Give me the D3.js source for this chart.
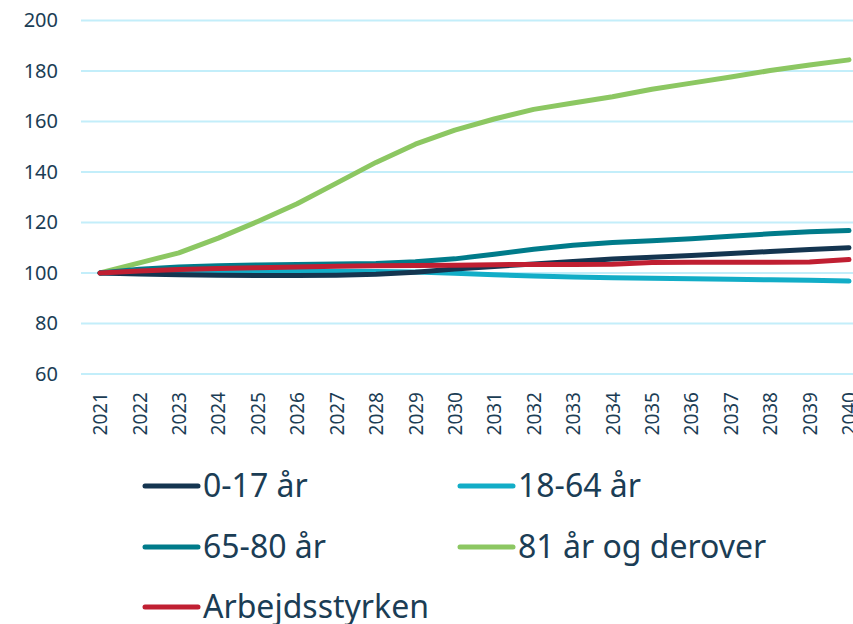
<!DOCTYPE html>
<html lang="da">

<head>
  <meta charset="utf-8">
  <title> Befolkning og arbejdsstyrke </title>
  <script src="https://d3js.org/d3.v7.min.js"></script>
  <style>
    body {
      margin: 0;
      background: #fff;
      font-family: "Noto Sans", "Open Sans", sans-serif;
    }

    .tick text {
      fill: #1b3d55;
    }

    .legend text {
      fill: #1b3d55;
      font-size: 32px;
    }
  </style>
</head>

<body>
  <script>
    // Years on the x axis
    var years = d3.range(2021, 2041);

    // Index values (2021 = 100) per group
    var age0to17 = [100, 99.6, 99.3, 99.1, 99.0, 99.0, 99.1, 99.5, 100.3, 101.6,
      102.6, 103.6, 104.6, 105.5, 106.2, 106.9, 107.7, 108.5, 109.3, 110.0];
    var age18to64 = [100, 100.2, 100.4, 100.5, 100.6, 100.7, 100.7, 100.6, 100.4, 99.9,
      99.3, 98.8, 98.4, 98.1, 97.9, 97.7, 97.5, 97.3, 97.1, 96.8];
    var age65to80 = [100, 101.5, 102.4, 102.9, 103.2, 103.4, 103.6, 103.8, 104.5, 105.6,
      107.4, 109.4, 111.0, 112.1, 112.8, 113.6, 114.6, 115.5, 116.3, 116.8];
    var age81plus = [100, 104, 108, 113.8, 120.4, 127.4, 135.6, 143.8, 151, 156.6,
      161, 164.8, 167.3, 169.8, 172.8, 175.2, 177.6, 180.2, 182.4, 184.4];
    var workforce = [100, 100.8, 101.4, 101.8, 102.1, 102.4, 102.7, 102.9, 103.0, 103.1,
      103.3, 103.4, 103.4, 103.5, 104.2, 104.3, 104.3, 104.3, 104.4, 105.3];

    var yTicks = [60, 80, 100, 120, 140, 160, 180, 200];

    var series = [
      { name: "0-17 år", values: age0to17, color: "#143550" },
      { name: "18-64 år", values: age18to64, color: "#12adc7" },
      { name: "65-80 år", values: age65to80, color: "#007b8a" },
      { name: "81 år og derover", values: age81plus, color: "#8cc762" },
      { name: "Arbejdsstyrken", values: workforce, color: "#c01f32" }
    ];

    // draw order: green behind, red on top
    var drawOrder = [3, 1, 0, 2, 4];

    var width = 853,
      height = 624;

    var svg = d3.select("body")
      .append("svg")
      .attr("width", width)
      .attr("height", height);

    var x = d3.scalePoint()
      .domain(years)
      .range([100, 849]);

    var y = d3.scaleLinear()
      .domain([60, 200])
      .range([374, 20.5]);

    // Horizontal grid lines
    svg.append("g")
      .selectAll("line")
      .data(yTicks)
      .enter().append("line")
      .attr("x1", 81)
      .attr("x2", width)
      .attr("y1", function(d) { return y(d); })
      .attr("y2", function(d) { return y(d); })
      .attr("stroke", "#c3eefa")
      .attr("stroke-width", 2);

    // Y axis labels
    var yAxis = svg.append("g")
      .attr("transform", "translate(64,0)")
      .call(d3.axisLeft(y).tickValues(yTicks).tickSize(0).tickPadding(6));
    yAxis.select(".domain").remove();
    yAxis.selectAll("text")
      .style("font-size", "20px")
      .style("font-family", "Noto Sans");

    // X axis labels (rotated)
    var xAxis = svg.append("g")
      .attr("transform", "translate(0,384)")
      .call(d3.axisBottom(x).tickSize(0).tickPadding(8));
    xAxis.select(".domain").remove();
    xAxis.selectAll("text")
      .style("font-size", "19px")
      .style("font-family", "Noto Sans")
      .attr("text-anchor", "end")
      .attr("transform", "rotate(-90)")
      .attr("x", -8)
      .attr("y", 0)
      .attr("dy", "0.35em");

    // Lines
    var line = d3.line()
      .x(function(d, i) { return x(years[i]); })
      .y(function(d) { return y(d); });

    svg.append("g")
      .selectAll("path")
      .data(drawOrder.map(function(i) { return series[i]; }))
      .enter().append("path")
      .attr("d", function(d) { return line(d.values); })
      .attr("fill", "none")
      .attr("stroke", function(d) { return d.color; })
      .attr("stroke-width", 5)
      .attr("stroke-linecap", "round")
      .attr("stroke-linejoin", "round");

    // Legend: two columns, three rows
    var legendX = [145, 460],
      legendY = [486, 547, 607];

    var legend = svg.append("g")
      .attr("class", "legend")
      .selectAll("g")
      .data(series)
      .enter().append("g")
      .attr("transform", function(d, i) {
        return "translate(" + legendX[i % 2] + "," + legendY[Math.floor(i / 2)] + ")";
      });

    legend.append("line")
      .attr("x1", 0)
      .attr("x2", 53)
      .attr("stroke", function(d) { return d.color; })
      .attr("stroke-width", 5)
      .attr("stroke-linecap", "round");

    legend.append("text")
      .attr("x", 58)
      .attr("dy", "0.35em")
      .text(function(d) { return d.name; });
  </script>
</body>

</html>
